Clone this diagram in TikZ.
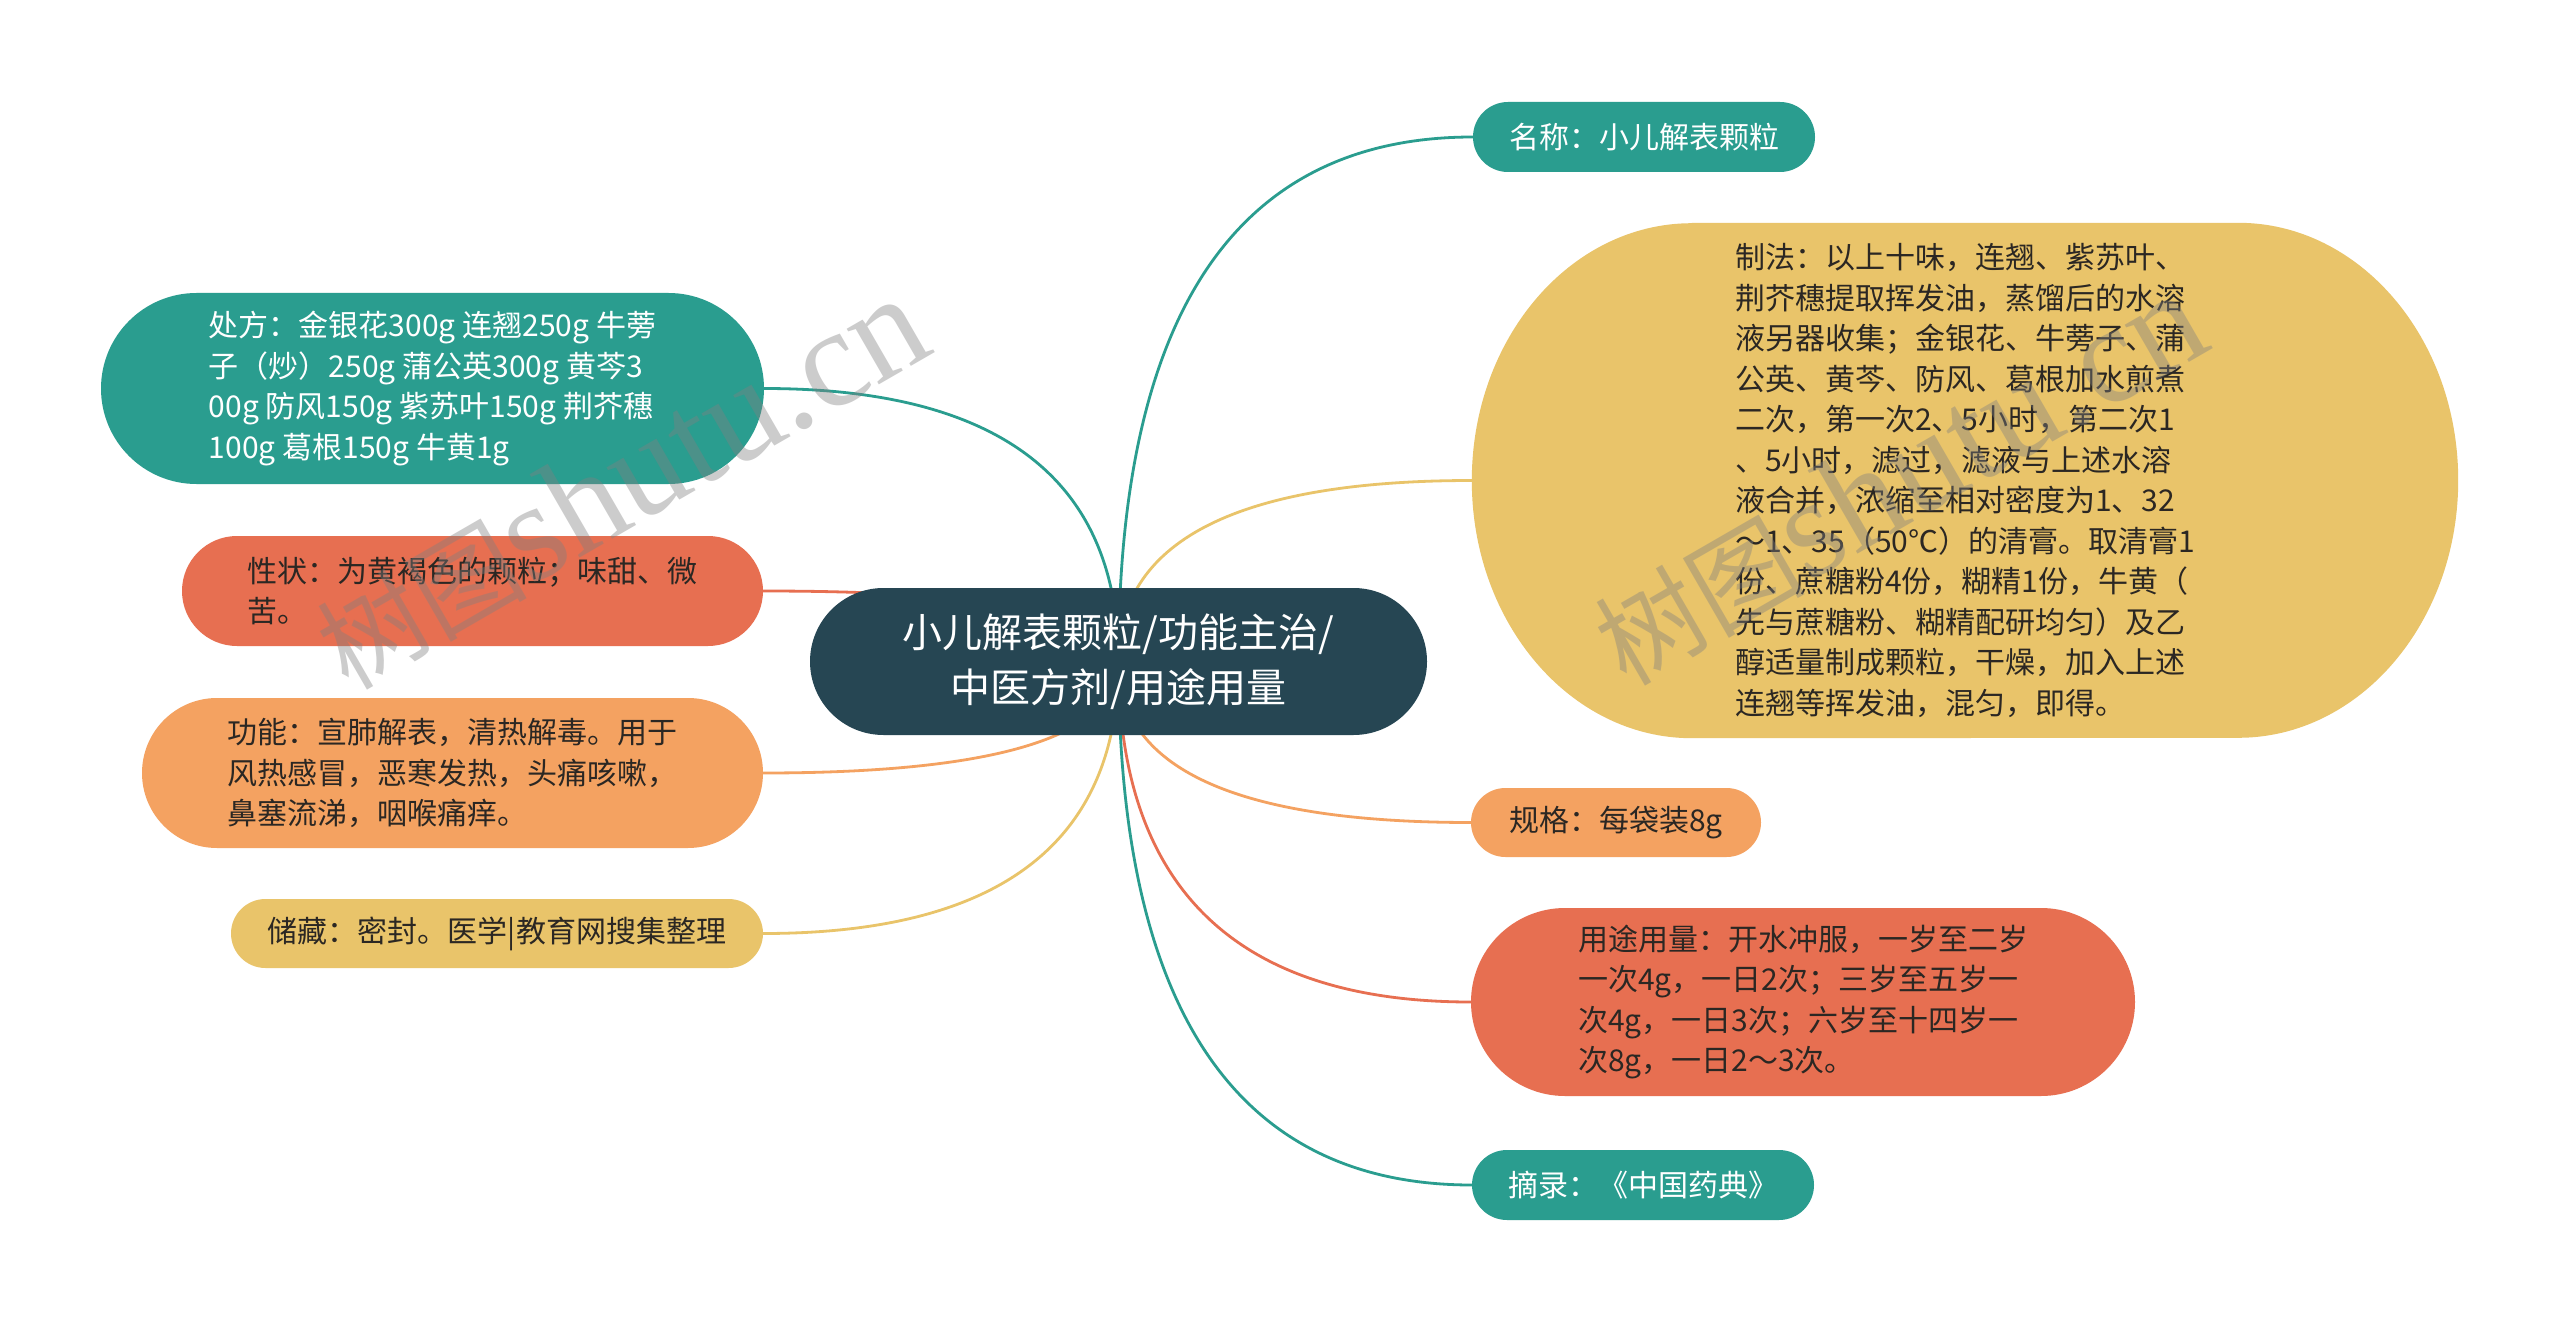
\documentclass[tikz,border=0pt]{standalone}
\usepackage{fontspec}
\setmainfont{Noto Sans CJK SC}
\newfontfamily\wmlatin{Liberation Serif}
\usetikzlibrary{backgrounds,calc}
\definecolor{cteal}{HTML}{2A9D8F}
\definecolor{cdark}{HTML}{264653}
\definecolor{cyel}{HTML}{E9C46A}
\definecolor{corg}{HTML}{F4A261}
\definecolor{cred}{HTML}{E76F51}
\definecolor{ctxt}{HTML}{2B2723}
\tikzset{
  branch/.style={inner sep=0pt, align=left, text=ctxt,
    font=\fontsize{30}{40.5}\selectfont},
  tealbox/.style={branch, fill=cteal, text=white},
  yelbox/.style={branch, fill=cyel},
  orgbox/.style={branch, fill=corg},
  redbox/.style={branch, fill=cred},
  link/.style={line width=2.8pt},
  wm/.style={inner sep=0pt, text=black!50, text opacity=0.4,
    font=\fontsize{105}{105}\selectfont}
}
\newcommand\linkto[2]{\draw[link,draw=#1] (c.center) .. controls ($(c.center)!0.7!(c.center |- #2)$) and ($(#2)!0.63!(c.center |- #2)$) .. (#2);}
\begin{document}
\begin{tikzpicture}[x=1pt,y=1pt]
\useasboundingbox (0,0) rectangle (2560,-1324);

% central topic
\node[fill=cdark, text=white, inner sep=0pt, align=center,
  minimum width=617pt, minimum height=147pt, rounded corners=73.5pt,
  font=\fontsize{40}{55}\selectfont] (c) at (1118.5,-661.5)
  {小儿解表颗粒/功能主治/\\中医方剂/用途用量};

% right side
\node[tealbox, minimum width=342pt, minimum height=70pt, rounded corners=35pt]
  (nm) at (1644,-137) {名称：小儿解表颗粒};
\node[branch, minimum width=986pt, minimum height=515pt] (zf) at (1965,-480.5)
  {制法：以上十味，连翘、紫苏叶、\\
   荆芥穗提取挥发油，蒸馏后的水溶\\
   液另器收集；金银花、牛蒡子、蒲\\
   公英、黄芩、防风、葛根加水煎煮\\
   二次，第一次2、5小时，第二次1\\
   、5小时，滤过，滤液与上述水溶\\
   液合并，浓缩至相对密度为1、32\\
   ～1、35（50℃）的清膏。取清膏1\\
   份、蔗糖粉4份，糊精1份，牛黄（\\
   先与蔗糖粉、糊精配研均匀）及乙\\
   醇适量制成颗粒，干燥，加入上述\\
   连翘等挥发油，混匀，即得。};
\node[orgbox, minimum width=290pt, minimum height=69pt, rounded corners=34.5pt]
  (gg) at (1616,-822.5) {规格：每袋装8g};
\node[redbox, minimum width=664pt, minimum height=188pt, rounded corners=94pt]
  (yt) at (1803,-1002) {用途用量：开水冲服，一岁至二岁\\
   一次4g，一日2次；三岁至五岁一\\
   次4g，一日3次；六岁至十四岁一\\
   次8g，一日2～3次。};
\node[tealbox, minimum width=342pt, minimum height=70pt, rounded corners=35pt]
  (zl) at (1643,-1185) {摘录：《中国药典》};

% left side
\node[tealbox, minimum width=663pt, minimum height=191pt, rounded corners=95.5pt]
  (cf) at (432.5,-388.5) {处方：金银花300g 连翘250g 牛蒡\\
   子（炒）250g 蒲公英300g 黄芩3\\
   00g 防风150g 紫苏叶150g 荆芥穗\\
   100g 葛根150g 牛黄1g};
\node[redbox, minimum width=581pt, minimum height=110pt, rounded corners=55pt]
  (xz) at (472.5,-591) {性状：为黄褐色的颗粒；味甜、微\\苦。};
\node[orgbox, minimum width=621pt, minimum height=150pt, rounded corners=75pt]
  (gn) at (452.5,-773) {功能：宣肺解表，清热解毒。用于\\
   风热感冒，恶寒发热，头痛咳嗽，\\
   鼻塞流涕，咽喉痛痒。};
\node[yelbox, minimum width=532pt, minimum height=69pt, rounded corners=34.5pt]
  (cc) at (497,-933.5) {储藏：密封。医学|教育网搜集整理};

\begin{scope}[on background layer]
  \fill[white] (0,0) rectangle (2560,-1324);
  \linkto{cteal}{nm.west}
  \linkto{cyel}{zf.west}
  \linkto{corg}{gg.west}
  \linkto{cred}{yt.west}
  \linkto{cteal}{zl.west}
  \linkto{cteal}{cf.east}
  \linkto{cred}{xz.east}
  \linkto{corg}{gn.east}
  \linkto{cyel}{cc.east}
  \fill[cyel] ([xshift=220pt]zf.north west) -- ([xshift=-220pt]zf.north east)
    arc[start angle=90, end angle=-90, x radius=220pt, y radius=257.5pt]
    -- ([xshift=220pt]zf.south west)
    arc[start angle=270, end angle=90, x radius=220pt, y radius=257.5pt] -- cycle;
\end{scope}

% watermarks
\node[wm, anchor=base west, rotate=30] (wm1) at (348,-692)
  {树图{\wmlatin\fontsize{140}{140}\selectfont shutu.cn}};
\node[wm, anchor=base west, rotate=30] (wm2) at (1626,-688)
  {树图{\wmlatin\fontsize{140}{140}\selectfont shutu.cn}};
\end{tikzpicture}
\end{document}
